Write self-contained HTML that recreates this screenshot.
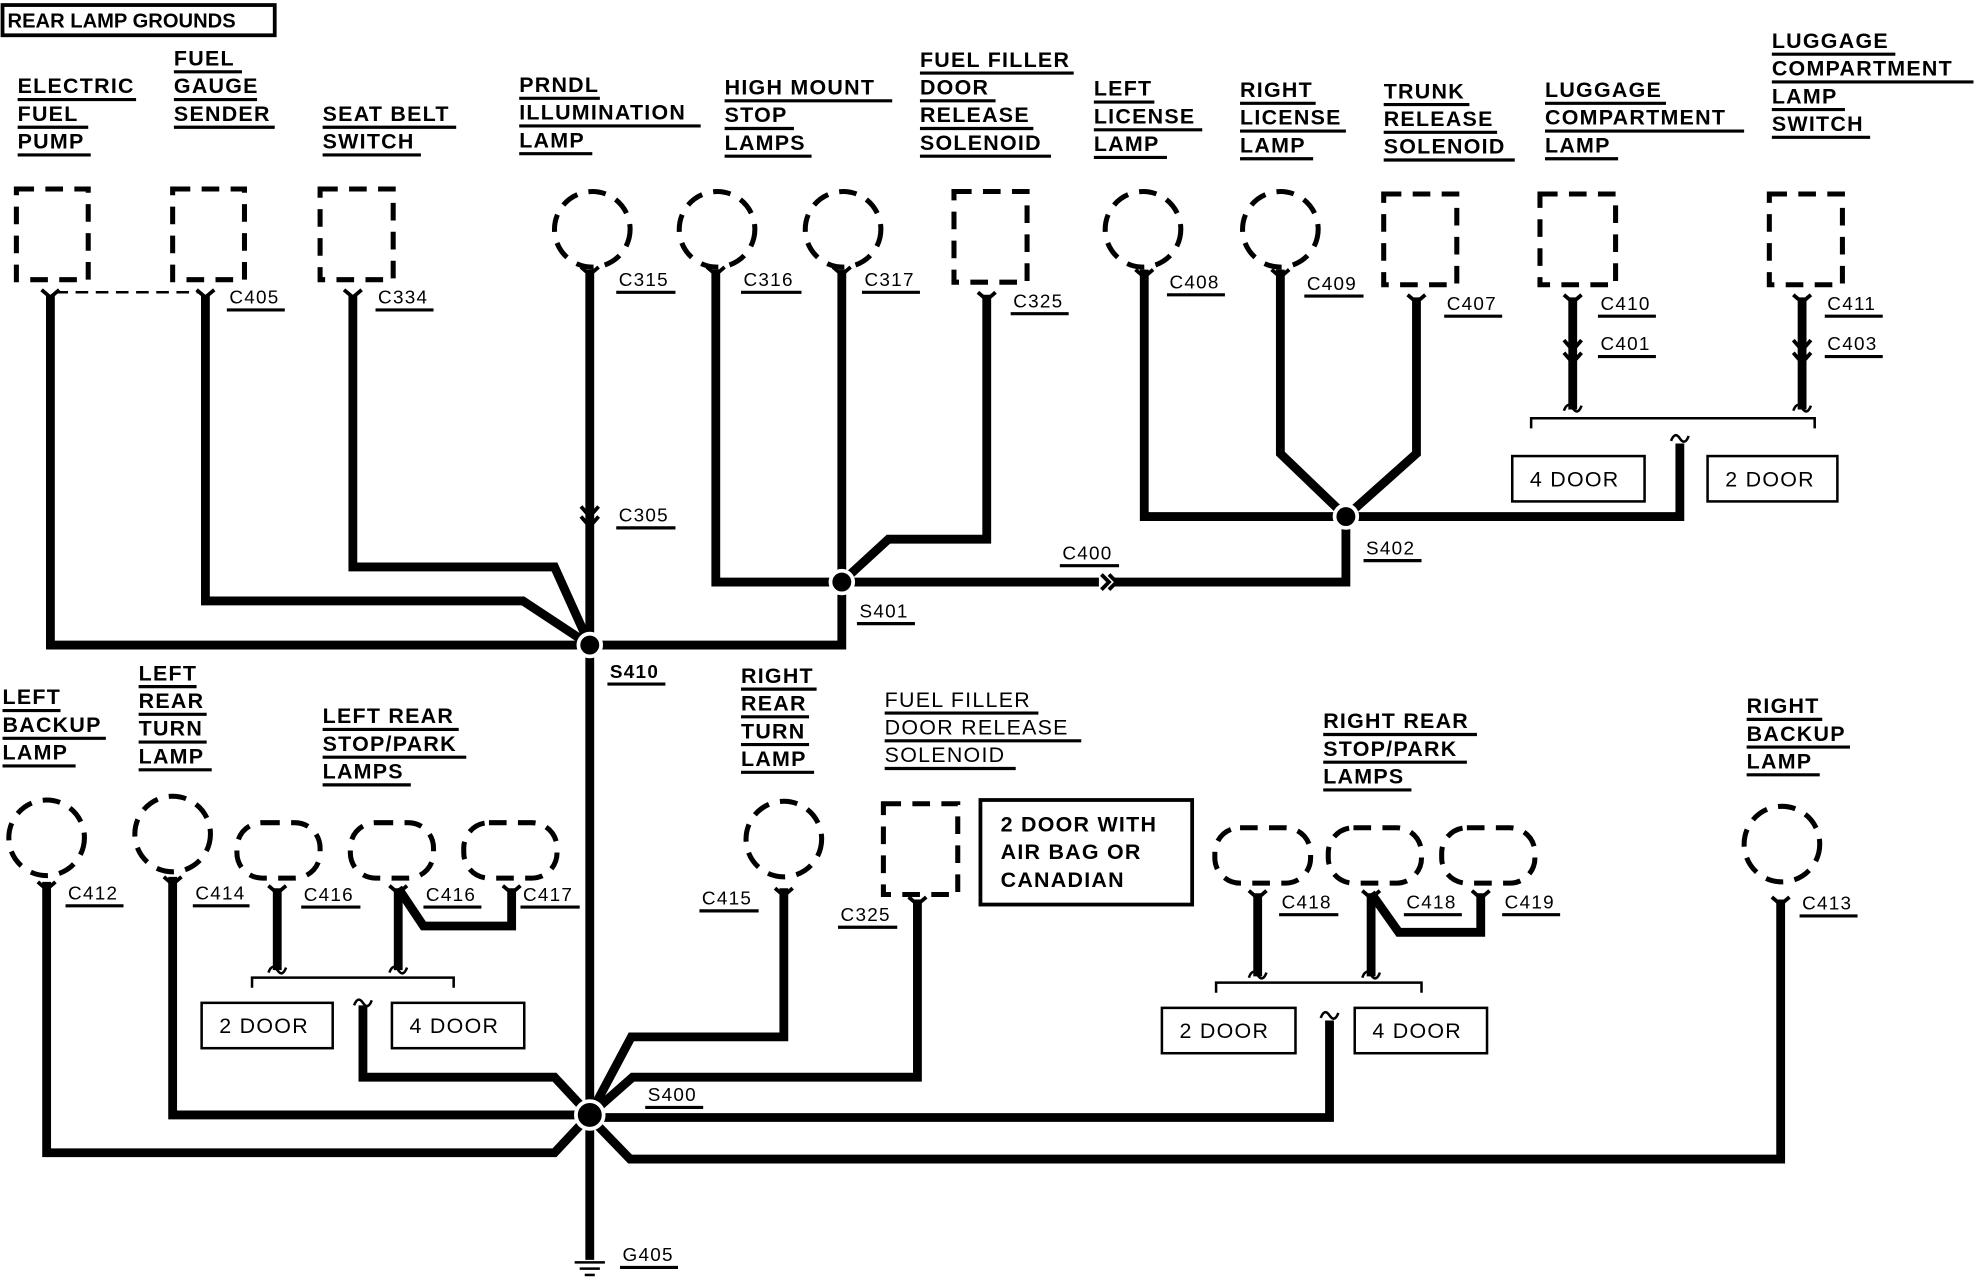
<!DOCTYPE html>
<html><head><meta charset="utf-8"><style>
html,body{margin:0;padding:0;background:#fff;}
svg{display:block;}
text{font-family:"Liberation Sans",sans-serif;font-size:17px;font-weight:bold;letter-spacing:1px;fill:#000;}
.c{font-size:15px;font-weight:normal;}
</style></head><body>
<svg width="1976" height="1280" viewBox="0 0 1568 1016" preserveAspectRatio="none" xmlns="http://www.w3.org/2000/svg">
<defs>
<style>
.w{fill:none;stroke:#000;stroke-width:7;stroke-linejoin:miter;}
.d{fill:none;stroke:#000;stroke-width:4;stroke-dasharray:14 9;}
.u{stroke:#000;stroke-width:2.5;}
.b{fill:#fff;stroke:#000;stroke-width:2;}
</style>
</defs>
<rect x="2" y="4" width="216" height="24" fill="#fff" stroke="#000" stroke-width="3"/>
<text x="6" y="22" style="font-size:16px;letter-spacing:0">REAR LAMP GROUNDS</text>

<g>
<text x="14" y="74">ELECTRIC</text><line class="u" x1="14" y1="79" x2="108" y2="79"/>
<text x="14" y="96">FUEL</text><line class="u" x1="14" y1="101" x2="70" y2="101"/>
<text x="14" y="118">PUMP</text><line class="u" x1="14" y1="123" x2="72" y2="123"/>
<text x="138" y="52">FUEL</text><line class="u" x1="138" y1="57" x2="192" y2="57"/>
<text x="138" y="74">GAUGE</text><line class="u" x1="138" y1="79" x2="204" y2="79"/>
<text x="138" y="96">SENDER</text><line class="u" x1="138" y1="101" x2="218" y2="101"/>
<text x="256" y="96">SEAT BELT</text><line class="u" x1="256" y1="101" x2="362" y2="101"/>
<text x="256" y="118">SWITCH</text><line class="u" x1="256" y1="123" x2="334" y2="123"/>
<text x="412" y="73">PRNDL</text><line class="u" x1="412" y1="78" x2="476" y2="78"/>
<text x="412" y="95">ILLUMINATION</text><line class="u" x1="412" y1="100" x2="556" y2="100"/>
<text x="412" y="117">LAMP</text><line class="u" x1="412" y1="122" x2="470" y2="122"/>
<text x="575" y="75">HIGH MOUNT</text><line class="u" x1="575" y1="80" x2="708" y2="80"/>
<text x="575" y="97">STOP</text><line class="u" x1="575" y1="102" x2="630" y2="102"/>
<text x="575" y="119">LAMPS</text><line class="u" x1="575" y1="124" x2="644" y2="124"/>
<text x="730" y="53">FUEL FILLER</text><line class="u" x1="730" y1="58" x2="852" y2="58"/>
<text x="730" y="75">DOOR</text><line class="u" x1="730" y1="80" x2="790" y2="80"/>
<text x="730" y="97">RELEASE</text><line class="u" x1="730" y1="102" x2="820" y2="102"/>
<text x="730" y="119">SOLENOID</text><line class="u" x1="730" y1="124" x2="834" y2="124"/>
<text x="868" y="76">LEFT</text><line class="u" x1="868" y1="81" x2="916" y2="81"/>
<text x="868" y="98">LICENSE</text><line class="u" x1="868" y1="103" x2="954" y2="103"/>
<text x="868" y="120">LAMP</text><line class="u" x1="868" y1="125" x2="926" y2="125"/>
<text x="984" y="77">RIGHT</text><line class="u" x1="984" y1="82" x2="1044" y2="82"/>
<text x="984" y="99">LICENSE</text><line class="u" x1="984" y1="104" x2="1068" y2="104"/>
<text x="984" y="121">LAMP</text><line class="u" x1="984" y1="126" x2="1042" y2="126"/>
<text x="1098" y="78">TRUNK</text><line class="u" x1="1098" y1="83" x2="1166" y2="83"/>
<text x="1098" y="100">RELEASE</text><line class="u" x1="1098" y1="105" x2="1188" y2="105"/>
<text x="1098" y="122">SOLENOID</text><line class="u" x1="1098" y1="127" x2="1202" y2="127"/>
<text x="1226" y="77">LUGGAGE</text><line class="u" x1="1226" y1="82" x2="1322" y2="82"/>
<text x="1226" y="99">COMPARTMENT</text><line class="u" x1="1226" y1="104" x2="1384" y2="104"/>
<text x="1226" y="121">LAMP</text><line class="u" x1="1226" y1="126" x2="1284" y2="126"/>
<text x="1406" y="38">LUGGAGE</text><line class="u" x1="1406" y1="43" x2="1504" y2="43"/>
<text x="1406" y="60">COMPARTMENT</text><line class="u" x1="1406" y1="65" x2="1566" y2="65"/>
<text x="1406" y="82">LAMP</text><line class="u" x1="1406" y1="87" x2="1464" y2="87"/>
<text x="1406" y="104">SWITCH</text><line class="u" x1="1406" y1="109" x2="1484" y2="109"/>
</g>

<rect class="d" x="13" y="150" width="57" height="72"/>
<rect class="d" x="137" y="150" width="57" height="72"/>
<rect class="d" x="254" y="150" width="58" height="72"/>
<circle class="d" cx="470" cy="182" r="30"/>
<circle class="d" cx="569" cy="182" r="30"/>
<circle class="d" cx="669" cy="182" r="30"/>
<rect class="d" x="757" y="152" width="58" height="72"/>
<circle class="d" cx="907" cy="182" r="30"/>
<circle class="d" cx="1016" cy="182" r="30"/>
<rect class="d" x="1098" y="154" width="58" height="72"/>
<rect class="d" x="1222" y="154" width="60" height="72"/>
<rect class="d" x="1404" y="154" width="58" height="72"/>
<line x1="44" y1="232" x2="158" y2="232" stroke="#000" stroke-width="2" stroke-dasharray="10 6"/>

<polyline class="w" points="40,234 40,512 668,512 668,462"/>
<polyline class="w" points="163,234 163,477 415,477 468,512"/>
<polyline class="w" points="280,234 280,450 440,450 468,512"/>
<polyline class="w" points="468,214 468,885"/>
<polyline class="w" points="568,214 568,462 668,462"/>
<polyline class="w" points="668,214 668,462"/>
<polyline class="w" points="783,234 783,428 705,428 668,462"/>
<polyline class="w" points="668,462 872,462"/>
<polyline class="w" points="884,462 1068,462 1068,410"/>
<polyline class="w" points="908,214 908,410 1333,410 1333,352"/>
<polyline class="w" points="1016,214 1016,360 1068,410 1124,360 1124,236"/>
<polyline class="w" points="1248,236 1248,325"/>
<polyline class="w" points="1430,236 1430,325"/>
<polyline fill="none" stroke="#000" stroke-width="2" points="1215,340 1215,332 1440,332 1440,340"/>
<path d="M1326,350 q3,-8 7,-2 q4,6 7,-2" fill="none" stroke="#000" stroke-width="2"/>
<path d="M874,456 l6,6 l-6,6 M880,456 l6,6 l-6,6" fill="none" stroke="#000" stroke-width="3"/>
<g fill="none" stroke="#000" stroke-width="3">
<path d="M33,230 l7,6 l7,-6 M156,230 l7,6 l7,-6 M273,230 l7,6 l7,-6 M461,212 l7,6 l7,-6 M561,212 l7,6 l7,-6 M661,212 l7,6 l7,-6 M776,232 l7,6 l7,-6 M901,214 l7,6 l7,-6 M1009,214 l7,6 l7,-6 M1117,234 l7,6 l7,-6 M1241,234 l7,6 l7,-6 M1423,234 l7,6 l7,-6 M461,402 l7,8 l7,-8 M461,410 l7,8 l7,-8 M1241,270 l7,8 l7,-8 M1241,280 l7,8 l7,-8 M1423,270 l7,8 l7,-8 M1423,280 l7,8 l7,-8"/>
</g>
<g class="c">
<text class="c" x="182" y="241">C405</text><line class="u" x1="180" y1="246" x2="226" y2="246"/>
<text class="c" x="300" y="241">C334</text><line class="u" x1="298" y1="246" x2="344" y2="246"/>
<text class="c" x="491" y="227">C315</text><line class="u" x1="489" y1="232" x2="536" y2="232"/>
<text class="c" x="590" y="227">C316</text><line class="u" x1="588" y1="232" x2="636" y2="232"/>
<text class="c" x="686" y="227">C317</text><line class="u" x1="684" y1="232" x2="730" y2="232"/>
<text class="c" x="804" y="244">C325</text><line class="u" x1="802" y1="249" x2="848" y2="249"/>
<text class="c" x="928" y="229">C408</text><line class="u" x1="926" y1="234" x2="972" y2="234"/>
<text class="c" x="1037" y="230">C409</text><line class="u" x1="1035" y1="235" x2="1082" y2="235"/>
<text class="c" x="1148" y="246">C407</text><line class="u" x1="1146" y1="251" x2="1192" y2="251"/>
<text class="c" x="1270" y="246">C410</text><line class="u" x1="1268" y1="251" x2="1314" y2="251"/>
<text class="c" x="1270" y="278">C401</text><line class="u" x1="1268" y1="283" x2="1314" y2="283"/>
<text class="c" x="1450" y="246">C411</text><line class="u" x1="1448" y1="251" x2="1494" y2="251"/>
<text class="c" x="1450" y="278">C403</text><line class="u" x1="1448" y1="283" x2="1494" y2="283"/>
<text class="c" x="491" y="414">C305</text><line class="u" x1="489" y1="419" x2="536" y2="419"/>
<text class="c" x="843" y="444">C400</text><line class="u" x1="841" y1="449" x2="888" y2="449"/>
<text class="c" x="1084" y="440">S402</text><line class="u" x1="1082" y1="445" x2="1128" y2="445"/>
<text class="c" x="682" y="490">S401</text><line class="u" x1="680" y1="495" x2="726" y2="495"/>
<text class="c" x="484" y="538" style="font-weight:bold">S410</text><line class="u" x1="482" y1="543" x2="528" y2="543"/>
</g>
<rect class="b" x="1200" y="362" width="105" height="36"/><text x="1214" y="386" style="font-weight:normal">4 DOOR</text>
<rect class="b" x="1355" y="362" width="103" height="36"/><text x="1369" y="386" style="font-weight:normal">2 DOOR</text>

<g>
<text x="2" y="559">LEFT</text><line class="u" x1="2" y1="564" x2="48" y2="564"/>
<text x="2" y="581">BACKUP</text><line class="u" x1="2" y1="586" x2="84" y2="586"/>
<text x="2" y="603">LAMP</text><line class="u" x1="2" y1="608" x2="60" y2="608"/>
<text x="110" y="540">LEFT</text><line class="u" x1="110" y1="545" x2="156" y2="545"/>
<text x="110" y="562">REAR</text><line class="u" x1="110" y1="567" x2="164" y2="567"/>
<text x="110" y="584">TURN</text><line class="u" x1="110" y1="589" x2="164" y2="589"/>
<text x="110" y="606">LAMP</text><line class="u" x1="110" y1="611" x2="168" y2="611"/>
<text x="256" y="574">LEFT REAR</text><line class="u" x1="256" y1="579" x2="364" y2="579"/>
<text x="256" y="596">STOP/PARK</text><line class="u" x1="256" y1="601" x2="370" y2="601"/>
<text x="256" y="618">LAMPS</text><line class="u" x1="256" y1="623" x2="326" y2="623"/>
<text x="588" y="542">RIGHT</text><line class="u" x1="588" y1="547" x2="648" y2="547"/>
<text x="588" y="564">REAR</text><line class="u" x1="588" y1="569" x2="642" y2="569"/>
<text x="588" y="586">TURN</text><line class="u" x1="588" y1="591" x2="642" y2="591"/>
<text x="588" y="608">LAMP</text><line class="u" x1="588" y1="613" x2="646" y2="613"/>
<text x="702" y="561" style="font-weight:normal">FUEL FILLER</text><line class="u" x1="702" y1="566" x2="824" y2="566"/>
<text x="702" y="583" style="font-weight:normal">DOOR RELEASE</text><line class="u" x1="702" y1="588" x2="858" y2="588"/>
<text x="702" y="605" style="font-weight:normal">SOLENOID</text><line class="u" x1="702" y1="610" x2="806" y2="610"/>
<text x="1050" y="578">RIGHT REAR</text><line class="u" x1="1050" y1="583" x2="1172" y2="583"/>
<text x="1050" y="600">STOP/PARK</text><line class="u" x1="1050" y1="605" x2="1164" y2="605"/>
<text x="1050" y="622">LAMPS</text><line class="u" x1="1050" y1="627" x2="1120" y2="627"/>
<text x="1386" y="566">RIGHT</text><line class="u" x1="1386" y1="571" x2="1446" y2="571"/>
<text x="1386" y="588">BACKUP</text><line class="u" x1="1386" y1="593" x2="1468" y2="593"/>
<text x="1386" y="610">LAMP</text><line class="u" x1="1386" y1="615" x2="1444" y2="615"/>
</g>

<circle class="d" cx="37" cy="665" r="30"/>
<circle class="d" cx="137" cy="662" r="30"/>
<rect class="d" x="188" y="653" width="66" height="44" rx="20"/>
<rect class="d" x="278" y="653" width="66" height="44" rx="20"/>
<rect class="d" x="368" y="653" width="74" height="44" rx="20"/>
<circle class="d" cx="622" cy="666" r="30"/>
<rect class="d" x="701" y="638" width="59" height="72"/>
<rect x="778" y="635" width="168" height="83" fill="#fff" stroke="#000" stroke-width="3"/>
<text x="794" y="660">2 DOOR WITH</text>
<text x="794" y="682">AIR BAG OR</text>
<text x="794" y="704">CANADIAN</text>
<rect class="d" x="964" y="657" width="76" height="44" rx="20"/>
<rect class="d" x="1054" y="657" width="74" height="44" rx="20"/>
<rect class="d" x="1144" y="657" width="74" height="44" rx="20"/>
<circle class="d" cx="1414" cy="670" r="30"/>

<polyline class="w" points="37,700 37,915 440,915 468,885"/>
<polyline class="w" points="137,696 137,885 468,885"/>
<polyline class="w" points="220,705 220,770"/>
<polyline class="w" points="316,705 316,770"/>
<polyline class="w" points="316,705 336,735 406,735 406,705"/>
<polyline fill="none" stroke="#000" stroke-width="2" points="200,784 200,776 360,776 360,784"/>
<polyline class="w" points="288,798 288,855 440,855 468,885"/>
<polyline class="w" points="622,705 622,823 501,823 468,885"/>
<polyline class="w" points="728,714 728,855 502,855 468,885"/>
<polyline class="w" points="998,709 998,775"/>
<polyline class="w" points="1088,709 1088,775"/>
<polyline class="w" points="1088,709 1110,740 1175,740 1175,709"/>
<polyline fill="none" stroke="#000" stroke-width="2" points="965,788 965,780 1128,780 1128,788"/>
<polyline class="w" points="1055,810 1055,887 468,887"/>
<polyline class="w" points="1413,714 1413,920 500,920 468,887"/>
<polyline class="w" points="468,885 468,1000"/>
<g fill="none" stroke="#000" stroke-width="2">
<path d="M281,798 q3,-8 7,-2 q4,6 7,-2"/><path d="M1048,808 q3,-8 7,-2 q4,6 7,-2"/>
<path d="M213,772 q3,-8 7,-2 q4,6 7,-2"/><path d="M309,772 q3,-8 7,-2 q4,6 7,-2"/>
<path d="M991,776 q3,-8 7,-2 q4,6 7,-2"/><path d="M1081,776 q3,-8 7,-2 q4,6 7,-2"/>
<path d="M1241,326 q3,-8 7,-2 q4,6 7,-2"/><path d="M1423,326 q3,-8 7,-2 q4,6 7,-2"/>
</g>
<g fill="none" stroke="#000" stroke-width="3">
<path d="M30,700 l7,6 l7,-6 M130,696 l7,6 l7,-6 M213,703 l7,6 l7,-6 M309,703 l7,6 l7,-6 M399,703 l7,6 l7,-6 M615,705 l7,6 l7,-6 M721,712 l7,6 l7,-6 M991,707 l7,6 l7,-6 M1081,707 l7,6 l7,-6 M1168,707 l7,6 l7,-6 M1406,712 l7,6 l7,-6"/>
</g>
<g>
<text class="c" x="54" y="714">C412</text><line class="u" x1="52" y1="719" x2="98" y2="719"/>
<text class="c" x="155" y="714">C414</text><line class="u" x1="153" y1="719" x2="198" y2="719"/>
<text class="c" x="241" y="715">C416</text><line class="u" x1="239" y1="720" x2="286" y2="720"/>
<text class="c" x="338" y="715">C416</text><line class="u" x1="336" y1="720" x2="382" y2="720"/>
<text class="c" x="415" y="715">C417</text><line class="u" x1="413" y1="720" x2="460" y2="720"/>
<text class="c" x="557" y="718">C415</text><line class="u" x1="555" y1="723" x2="602" y2="723"/>
<text class="c" x="667" y="731">C325</text><line class="u" x1="665" y1="736" x2="712" y2="736"/>
<text class="c" x="1017" y="721">C418</text><line class="u" x1="1015" y1="726" x2="1062" y2="726"/>
<text class="c" x="1116" y="721">C418</text><line class="u" x1="1114" y1="726" x2="1160" y2="726"/>
<text class="c" x="1194" y="721">C419</text><line class="u" x1="1192" y1="726" x2="1238" y2="726"/>
<text class="c" x="1430" y="722">C413</text><line class="u" x1="1428" y1="727" x2="1474" y2="727"/>
<text class="c" x="514" y="874">S400</text><line class="u" x1="512" y1="879" x2="558" y2="879"/>
<text class="c" x="494" y="1001">G405</text><line class="u" x1="492" y1="1006" x2="538" y2="1006"/>
</g>
<rect class="b" x="160" y="796" width="104" height="36"/><text x="174" y="820" style="font-weight:normal">2 DOOR</text>
<rect class="b" x="311" y="796" width="105" height="36"/><text x="325" y="820" style="font-weight:normal">4 DOOR</text>
<rect class="b" x="922" y="800" width="106" height="36"/><text x="936" y="824" style="font-weight:normal">2 DOOR</text>
<rect class="b" x="1075" y="800" width="105" height="36"/><text x="1089" y="824" style="font-weight:normal">4 DOOR</text>

<g fill="#000" stroke="#fff" stroke-width="3">
<circle cx="468" cy="512" r="9"/><circle cx="668" cy="462" r="9"/><circle cx="1068" cy="410" r="9"/><circle cx="468" cy="885" r="11"/>
</g>
<g stroke="#000" stroke-width="2">
<line x1="456" y1="1002" x2="480" y2="1002"/><line x1="460" y1="1007" x2="476" y2="1007"/><line x1="464" y1="1012" x2="472" y2="1012"/>
</g>
</svg>
</body></html>
